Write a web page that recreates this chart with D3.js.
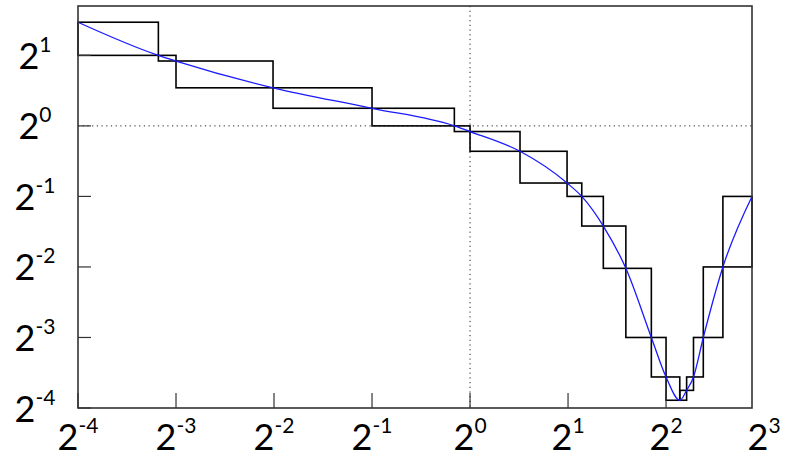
<!DOCTYPE html>
<html>
<head>
<meta charset="utf-8">
<script src="https://cdn.jsdelivr.net/npm/d3@7"></script>
<style>
  html, body { margin: 0; padding: 0; background: #fff; }
</style>
</head>
<body>
<div id="chart"></div>
<script>
// tick exponents (base 2)
const xTickExp = [-4, -3, -2, -1, 0, 1, 2, 3];
const yTickExp = [1, 0, -1, -2, -3, -4];

// knots of the staircase (log2 x, log2 y)
const knotXExp = [-4, -3.18, -3.0, -2.01, -1.0, -0.16, 0, 0.51, 0.99, 1.14, 1.36, 1.59, 1.85, 2.0, 2.14, 2.21, 2.28, 2.38, 2.58, 2.877];
const knotYExp = [1.47, 1.0, 0.92, 0.54, 0.25, 0, -0.08, -0.36, -0.81, -1.0, -1.42, -2.02, -3.0, -3.56, -3.89, -3.75, -3.56, -3.0, -2.0, -1.0];

const width = 792;
const height = 458;
const plot = { left: 78, right: 752, top: 6, bottom: 408 };

const svg = d3.select("#chart")
  .append("svg")
  .attr("width", width)
  .attr("height", height);

const x = d3.scaleLog().base(2)
  .domain([Math.pow(2, -4), Math.pow(2, 2.877)])
  .range([plot.left, plot.right]);

const y = d3.scaleLog().base(2)
  .domain([Math.pow(2, -4), Math.pow(2, 1.7)])
  .range([plot.bottom, plot.top]);

const knots = knotXExp.map((e, i) => ({ x: Math.pow(2, e), y: Math.pow(2, knotYExp[i]) }));

// dotted grid at 2^0
svg.append("line")
  .attr("x1", plot.left).attr("x2", plot.right)
  .attr("y1", y(1)).attr("y2", y(1))
  .attr("stroke", "#222")
  .attr("stroke-width", 1)
  .attr("stroke-dasharray", "1.2,3.5");

svg.append("line")
  .attr("x1", x(1)).attr("x2", x(1))
  .attr("y1", plot.top).attr("y2", plot.bottom)
  .attr("stroke", "#222")
  .attr("stroke-width", 1)
  .attr("stroke-dasharray", "1.2,3.5");

// boxes between consecutive knots
const pairs = d3.pairs(knots);
svg.selectAll("rect.box")
  .data(pairs)
  .enter()
  .append("rect")
  .attr("class", "box")
  .attr("x", d => Math.min(x(d[0].x), x(d[1].x)))
  .attr("y", d => Math.min(y(d[0].y), y(d[1].y)))
  .attr("width", d => Math.abs(x(d[1].x) - x(d[0].x)))
  .attr("height", d => Math.abs(y(d[1].y) - y(d[0].y)))
  .attr("fill", "none")
  .attr("stroke", "#000")
  .attr("stroke-width", 1.6);

// blue curve through the knots
const line = d3.line()
  .x(d => x(d.x))
  .y(d => y(d.y))
  .curve(d3.curveMonotoneX);

svg.append("path")
  .datum(knots)
  .attr("fill", "none")
  .attr("stroke", "#1a1aff")
  .attr("stroke-width", 1.3)
  .attr("d", line);

// frame
svg.append("rect")
  .attr("x", plot.left)
  .attr("y", plot.top)
  .attr("width", plot.right - plot.left)
  .attr("height", plot.bottom - plot.top)
  .attr("fill", "none")
  .attr("stroke", "#333")
  .attr("stroke-width", 1.6);

// ticks
svg.selectAll("line.xtick")
  .data(xTickExp.filter(e => x(Math.pow(2, e)) < plot.right - 2))
  .enter()
  .append("line")
  .attr("x1", e => x(Math.pow(2, e)))
  .attr("x2", e => x(Math.pow(2, e)))
  .attr("y1", plot.bottom)
  .attr("y2", plot.bottom - 15)
  .attr("stroke", "#333")
  .attr("stroke-width", 1.2);

svg.selectAll("line.ytick")
  .data(yTickExp)
  .enter()
  .append("line")
  .attr("x1", plot.left)
  .attr("x2", plot.left + 13)
  .attr("y1", e => y(Math.pow(2, e)))
  .attr("y2", e => y(Math.pow(2, e)))
  .attr("stroke", "#333")
  .attr("stroke-width", 1.2);

// labels 2^n
function powLabel(sel) {
  sel.append("tspan").text("2");
  sel.append("tspan")
    .attr("dy", -17)
    .style("font-size", "21px")
    .text(e => String(e));
}

svg.selectAll("text.xlabel")
  .data(xTickExp)
  .enter()
  .append("text")
  .attr("class", "xlabel")
  .attr("x", e => x(Math.pow(2, e)))
  .attr("y", 450)
  .attr("text-anchor", "middle")
  .style("font-family", "Lato, 'Open Sans', sans-serif")
  .style("font-size", "36px")
  .style("fill", "#000")
  .call(powLabel);

svg.selectAll("text.ylabel")
  .data(yTickExp)
  .enter()
  .append("text")
  .attr("class", "ylabel")
  .attr("x", 35)
  .attr("y", e => y(Math.pow(2, e)) + 13.5)
  .attr("text-anchor", "middle")
  .style("font-family", "Lato, 'Open Sans', sans-serif")
  .style("font-size", "36px")
  .style("fill", "#000")
  .call(powLabel);
</script>
</body>
</html>
